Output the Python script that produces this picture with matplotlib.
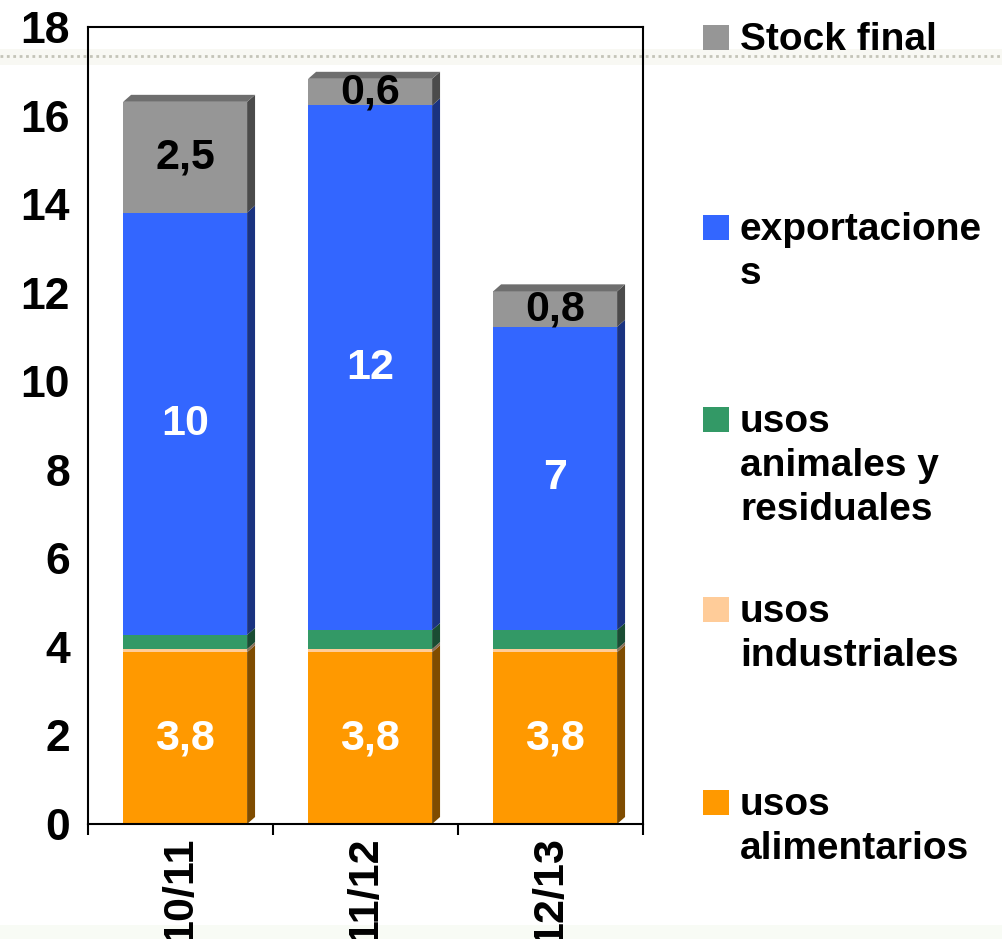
import numpy as np
import matplotlib
matplotlib.use('Agg')
import matplotlib.pyplot as plt
from matplotlib.patches import Polygon, Rectangle
from matplotlib.lines import Line2D

plt.rcParams['font.family'] = ['Liberation Sans', 'DejaVu Sans']
plt.rcParams['font.weight'] = 'bold'

# ── data ────────────────────────────────────────────────────
seasons = ['10/11', '11/12', '12/13']
alimentarios = [3.88, 3.88, 3.88]
industriales = [0.07, 0.07, 0.07]
animales = [0.32, 0.43, 0.43]
exportaciones = [9.54, 11.85, 6.85]
stock_final = [2.5, 0.6, 0.8]

series_names = ['usos\nalimentarios', 'usos\nindustriales',
                'usos\nanimales y\nresiduales', 'exportacione\ns', 'Stock final']
series_values = [alimentarios, industriales, animales, exportaciones, stock_final]
seg_labels = [['3,8', '3,8', '3,8'], None, None, ['10', '12', '7'], ['2,5', '0,6', '0,8']]

face_colors = ['#FF9900', '#FFCC99', '#339966', '#3366FF', '#969696']
side_colors = ['#7F4C00', '#8C7058', '#1A4C33', '#1A3380', '#4B4B4B']
label_colors = ['white', None, None, 'white', 'black']
TOP = '#6E6E6E'

W, H = 1003, 939
fig = plt.figure(figsize=(W/100, H/100), dpi=100)

# slide template decoration: pale dotted band near the top, faint band at bottom
fig.patches.append(Rectangle((0, 1-65/H), 1, 16/H, transform=fig.transFigure,
                             facecolor='#f8f8f3', edgecolor='none', zorder=-2))
fig.lines.append(Line2D([0, 1], [1-56/H]*2, transform=fig.transFigure, color='#c4c4b8',
                        lw=2.0, ls=(0, (1, 1.3)), zorder=-1))
fig.patches.append(Rectangle((0, 0), 1, 14/H, transform=fig.transFigure,
                             facecolor='#f8fbf5', edgecolor='none', zorder=-2))

ax = fig.add_axes([88/W, 1-824/H, (643-88)/W, (824-27)/H])
ax.set_facecolor('none')

x = np.arange(len(seasons)) + 0.025
w = 0.67
dx, dy = 0.043, 0.158   # fake 3D depth

bottom = np.zeros(len(seasons))
for k, (vals, fc, sc) in enumerate(zip(series_values, face_colors, side_colors)):
    vals = np.array(vals)
    ax.bar(x, vals, w, bottom=bottom, color=fc, zorder=2)
    for i, (xi, b, v) in enumerate(zip(x, bottom, vals)):
        xr = xi + w/2
        ax.add_patch(Polygon([(xr, b), (xr+dx, b+dy), (xr+dx, b+v+dy), (xr, b+v)],
                             closed=True, facecolor=sc, edgecolor='none', zorder=2))
        if seg_labels[k] is not None:
            ax.text(xi, b + v/2, seg_labels[k][i], ha='center', va='center',
                    fontsize=31, fontweight='bold', color=label_colors[k], zorder=4)
    bottom = bottom + vals

# top faces
for xi, t in zip(x, bottom):
    xl, xr = xi - w/2, xi + w/2
    ax.add_patch(Polygon([(xl, t), (xl+dx, t+dy), (xr+dx, t+dy), (xr, t)],
                         closed=True, facecolor=TOP, edgecolor='none', zorder=2))

ax.set_xlim(-0.5, 2.5)
ax.set_ylim(0, 18)
ax.set_yticks(np.arange(0, 19, 2))
ax.tick_params(axis='y', length=0, pad=13, labelsize=32)
ax.set_xticks(np.arange(len(seasons)))
ax.set_xticklabels(seasons, rotation=90, fontsize=31, fontweight='bold')
ax.tick_params(axis='x', which='major', length=0, pad=9)
ax.set_xticks(np.arange(-0.5, 3, 1), minor=True)
ax.tick_params(axis='x', which='minor', length=8, width=1.5, direction='out')
for s in ax.spines.values():
    s.set_linewidth(1.5); s.set_color('black')

# legend drawn by hand (top = last series)
baselines = [815, 622, 432, 240, 50]
for name, fc, bl in zip(series_names, face_colors, baselines):
    fig.patches.append(Rectangle((703/W, 1-bl/H), 26/W, 25/H, transform=fig.transFigure,
                                 facecolor=fc, edgecolor='none'))
    for j, line in enumerate(name.split('\n')):
        fig.text(740/W, 1-(bl + j*44)/H, line, va='baseline', ha='left',
                 fontsize=28, fontweight='bold')

fig.savefig('out.png', dpi=100)
